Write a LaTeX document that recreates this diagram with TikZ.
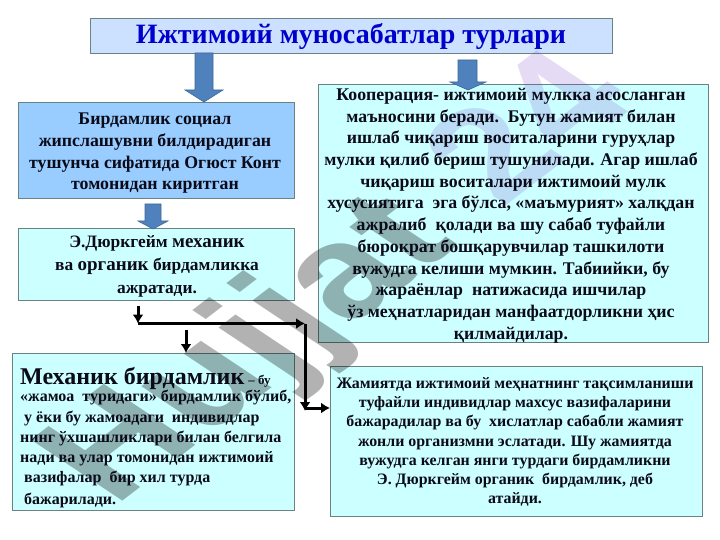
\documentclass[tikz,border=0pt]{standalone}
\usepackage{fontspec}
\setmainfont{Liberation Serif}
\newfontfamily\wmfont{Liberation Sans}
\usetikzlibrary{arrows.meta}
\definecolor{wmpurple}{RGB}{120,60,200}
\definecolor{boxedge}{RGB}{105,130,130}
\definecolor{arrowblue}{RGB}{79,129,189}
\definecolor{titleblue}{RGB}{0,0,205}
\definecolor{inkblack}{RGB}{10,10,25}
\tikzset{
  x=1pt,y=-1pt,
  boxbase/.style={draw=boxedge,line width=1.2pt,rectangle,anchor=north west,inner sep=0pt},
  titlebox/.style={boxbase,fill={rgb,255:red,204;green,224;blue,255}},
  bluebox/.style={boxbase,fill={rgb,255:red,153;green,204;blue,255}},
  cyanbox/.style={boxbase,fill={rgb,255:red,204;green,255;blue,255}},
  body/.style={font=\bfseries\fontsize{17.8}{21.7}\selectfont,text=inkblack,align=center,anchor=north,inner sep=0pt},
  blockarrow/.style={draw=arrowblue!80!black,line width=.6pt,fill=arrowblue},
  conn/.style={line width=3pt,-{Latex[length=9pt,width=11pt]}},
  wmtext/.style={transform shape,font=\wmfont\bfseries\fontsize{130}{130}\selectfont,anchor=base west,inner sep=0pt,text opacity=#1},
}
\begin{document}
\begin{tikzpicture}
\useasboundingbox (0,0) rectangle (720,540);
\fill[white] (0,0) rectangle (720,540);
% boxes
\node[titlebox,minimum width=522pt,minimum height=35pt] (title) at (90,18) {};
\node[bluebox,minimum width=276pt,minimum height=96pt] (soc) at (18,102) {};
\node[cyanbox,minimum width=276pt,minimum height=72pt] (dur) at (18,228) {};
\node[cyanbox,minimum width=282pt,minimum height=157pt] (mex) at (12,353) {};
\node[cyanbox,minimum width=390pt,minimum height=258pt] (coop) at (318,84) {};
\node[cyanbox,minimum width=372pt,minimum height=150pt] (jam) at (330,366) {};
% arrows
\path[blockarrow] (195,53) -- (213,53) -- (213,90) -- (223,90) -- (204,102) -- (185,90) -- (195,90) -- cycle;
\path[blockarrow] (458,60) -- (477,60) -- (477,82) -- (486,82) -- (468,90) -- (450,82) -- (458,82) -- cycle;
\path[blockarrow] (145,204) -- (161,204) -- (161,221) -- (168,221) -- (153,229) -- (138,221) -- (145,221) -- cycle;
% watermark
\begin{scope}[xscale=1.4]
\node[wmtext=.3,rotate=47,text=black] (wm) at (82,508) {Hujjat};
\node[wmtext=.18,rotate=47,text=wmpurple] (wm2) at (359,209) {24};
\end{scope}
% texts
\node[font=\bfseries\fontsize{28}{30}\selectfont,text=titleblue,inner sep=0pt] (titletext) at (351,37) {Ижтимоий муносабатлар турлари};
\node[body] (soct) at (155,113) {Бирдамлик социал\\ жипслашувни билдирадиган\\ тушунча сифатида Огюст Конт\\ томонидан киритган};
\node[body,font=\bfseries\fontsize{17.4}{23}\selectfont] (durt) at (157,235.5) {Э.Дюркгейм {\fontsize{19}{23}\selectfont механик}\\ ва {\fontsize{19}{23}\selectfont органик} бирдамликка\\ ажратади.};
\node[body,anchor=north west,align=left,font=\bfseries\fontsize{16}{20.1}\selectfont] (mext) at (20,367) {{\fontsize{24}{26}\selectfont Механик бирдамлик} {\fontsize{13}{20}\selectfont – бу}\\[-2.5pt]
«жамоа\ \ туридаги» бирдамлик бўлиб,\\
\ у ёки бу жамоадаги\ \ индивидлар\\
нинг ўхшашликлари билан белгила\\
нади ва улар томонидан ижтимоий\\
\ вазифалар\ \ бир хил турда\\[2pt]
\ бажарилади.};
\node[body] (coopt) at (511,88) {Кооперация- ижтимоий мулкка асосланган\\
маъносини беради.\ \ Бутун жамият билан\\
ишлаб чиқариш воситаларини гуруҳлар\\
мулки қилиб бериш тушунилади. Агар ишлаб\\
\ чиқариш воситалари ижтимоий мулк\\
хусусиятига\ \ эга бўлса, «маъмурият» халқдан\\
ажралиб\ \ қолади ва шу сабаб туфайли\\
бюрократ бошқарувчилар ташкилоти\\
вужудга келиши мумкин. Табиийки, бу\\
жараёнлар\ \ натижасида ишчилар\\
ўз меҳнатларидан манфаатдорликни ҳис\\
қилмайдилар.};
\node[body,font=\bfseries\fontsize{15.9}{19.3}\selectfont] (jamt) at (515,377) {Жамиятда ижтимоий меҳнатнинг тақсимланиши\\
туфайли индивидлар махсус вазифаларини\\
бажарадилар ва бу\ \ хислатлар сабабли жамият\\
жонли организмни эслатади. Шу жамиятда\\
вужудга келган янги турдаги бирдамликни\\
Э. Дюркгейм органик\ \ бирдамлик, деб\\
атайди.};
% connectors
\coordinate (c0) at (138,306);
\coordinate (c1) at (138,323.5);
\coordinate (c2) at (305,323.5);
\coordinate (c3) at (305,411);
\coordinate (c4) at (305,408);
\coordinate (c5) at (186,330);
\draw[conn] (c0) -- (c1);
\draw[conn] (c1) -- (c2);
\draw[conn] (c2) -- (c3);
\draw[conn] (c4) -- (jam.west |- c4);
\draw[conn] (c5) -- (mex.north -| c5);
\end{tikzpicture}
\end{document}
